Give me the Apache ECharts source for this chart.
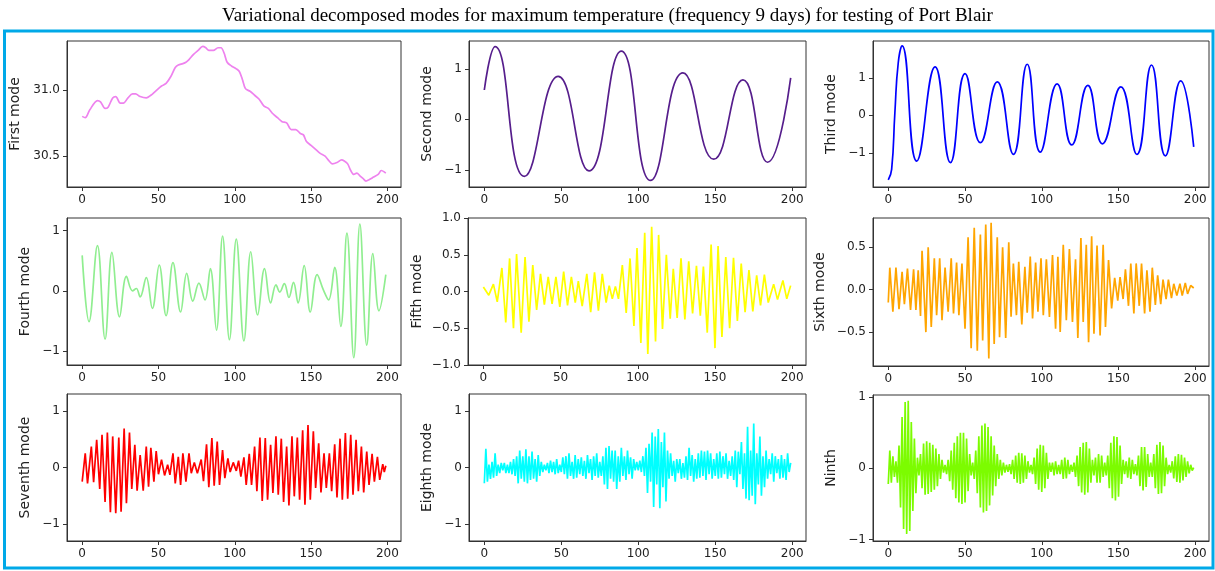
<!DOCTYPE html>
<html>
<head>
<meta charset="utf-8">
<script src="https://cdn.jsdelivr.net/npm/echarts@6/dist/echarts.min.js"></script>
<style>
html, body { margin: 0; padding: 0; background: #fff; }
#chart { width: 1215px; height: 571px; }
</style>
</head>
<body>
<div id="chart"></div>
<script>
// values: [step, value]
var firstMode = [[0,30.80],[2,30.79],[5,30.85],[10,30.92],[12,30.91],[15,30.86],[17,30.87],[20,30.94],[22,30.95],
    [25,30.90],[27,30.90],[30,30.94],[33,30.97],[35,30.97],[38,30.95],[42,30.94],[45,30.96],[48,30.99],[52,31.03],
    [55,31.05],[58,31.10],[61,31.17],[63,31.19],[66,31.20],[68,31.21],[70,31.23],[73,31.27],[76,31.30],[79,31.33],
    [81,31.32],[83,31.30],[86,31.30],[89,31.32],[91,31.32],[93,31.28],[95,31.21],[98,31.18],[101,31.16],[103,31.14],
    [105,31.08],[107,31.01],[110,30.99],[113,30.96],[116,30.93],[119,30.88],[122,30.86],[125,30.82],[128,30.79],
    [131,30.76],[134,30.75],[137,30.70],[140,30.70],[143,30.67],[145,30.66],[147,30.61],[150,30.58],[153,30.55],
    [156,30.52],[159,30.50],[162,30.46],[164,30.44],[167,30.45],[170,30.47],[172,30.46],[174,30.44],[176,30.39],
    [178,30.36],[180,30.37],[182,30.35],[184,30.33],[186,30.31],[188,30.32],[191,30.34],[194,30.36],[196,30.39],[199,30.37]];

var secondMode = [[0,0.58],[7,1.44],[26,-1.13],[48,0.85],[68,-1.02],[89,1.35],[108,-1.21],[129,0.92],
    [149,-0.79],[168,0.78],[184,-0.85],[199,0.82]];

var thirdMode = [[0,-1.72],[2.2,-1.44],[4.3,0.07],[6.5,1.40],[9,1.85],[18.5,-1.22],[30.5,1.29],[40.5,-1.26],
    [50,1.11],[60,-0.73],[71,0.89],[81.5,-1.04],[90.5,1.36],[99,-0.98],[110,0.84],[119.5,-0.79],[130,0.80],
    [139.5,-0.76],[151.5,0.76],[162,-1.04],[171.5,1.34],[180.5,-1.08],[190.5,0.92],[199,-0.84]];

var fourthMode = [[0,0.59],[4.5,-0.51],[10,0.75],[15,-0.80],[19.5,0.64],[24.5,-0.43],[29,0.24],[33,0.0],
    [35.5,0.04],[38,-0.10],[42,0.22],[46,-0.29],[50.5,0.43],[55,-0.41],[59.5,0.47],[64.5,-0.35],[68.5,0.29],
    [72.5,-0.17],[76.5,0.13],[80.5,-0.15],[84,0.37],[88,-0.65],[92,0.91],[96.5,-0.81],[101,0.86],[106,-0.83],
    [110.5,0.65],[115,-0.40],[119.5,0.37],[123.5,-0.20],[127,0.10],[129.5,-0.02],[132.5,0.12],[135.5,-0.11],
    [138.5,0.14],[141.5,-0.20],[145.5,0.42],[149.5,-0.35],[154,0.27],[158,0.02],[161.5,-0.15],[165.5,0.39],
    [169.5,-0.59],[173.5,0.96],[178,-1.11],[182,1.11],[186.5,-0.90],[190.5,0.62],[194.5,-0.33],[199,0.27]];

var fifthMode = [[0,0.06],[3.5,-0.05],[6.5,0.10],[9,-0.14],[12,0.32],[14.5,-0.42],[17,0.45],[19.5,-0.50],
    [21.5,0.51],[24.5,-0.56],[27,0.47],[29.5,-0.41],[32,0.36],[34.5,-0.25],[37,0.24],[39.5,-0.18],[42,0.20],
    [44.5,-0.17],[47,0.20],[49.5,-0.21],[52,0.27],[54.5,-0.19],[57,0.20],[59.5,-0.15],[61.5,0.14],[64,-0.20],
    [67,0.24],[69.5,-0.28],[72,0.26],[74.5,-0.26],[77,0.24],[79.5,-0.15],[81.5,0.08],[83.5,-0.10],[85.5,0.07],
    [87.5,-0.10],[90,0.36],[92.5,-0.29],[95,0.45],[97.5,-0.47],[99.5,0.59],[102,-0.70],[104.5,0.80],[106.5,-0.85],
    [109,0.88],[111.5,-0.68],[113.5,0.77],[116,-0.51],[118.5,0.50],[121,-0.37],[123,0.31],[125.5,-0.36],
    [128,0.45],[130.5,-0.38],[133,0.41],[135.5,-0.30],[138,0.35],[140.5,-0.33],[142.5,0.34],[145,-0.56],
    [147.5,0.64],[150,-0.77],[152,0.62],[154.5,-0.62],[157,0.47],[159.5,-0.50],[162,0.46],[164.5,-0.40],
    [167,0.38],[169.5,-0.28],[172,0.29],[174.5,-0.27],[177,0.22],[179.5,-0.19],[182,0.23],[184.5,-0.15],
    [188,0.10],[190.5,-0.11],[194,0.15],[196.5,-0.10],[199,0.08]];

var sixthMode = [[0,-0.15],[1,0.26],[3,-0.26],[5,0.26],[7,-0.23],[9,0.21],[10.5,-0.17],[12.5,0.25],[14.5,-0.24],
    [16.5,0.24],[18,-0.24],[19.5,0.23],[21,-0.31],[22,0.46],[24.5,-0.50],[26,0.50],[28,-0.44],[30,0.37],
    [31.5,-0.30],[33.5,0.37],[35,-0.36],[37,0.26],[39,-0.26],[41,0.37],[42.5,-0.28],[44.5,0.32],[46,-0.30],
    [48,0.31],[50,-0.46],[52,0.62],[54,-0.69],[56,0.73],[58,-0.72],[60,0.65],[61.5,-0.60],[63.5,0.77],
    [65.5,-0.81],[67,0.79],[69,-0.64],[71,0.62],[72.5,-0.56],[74.5,0.50],[76.5,-0.57],[78.5,0.56],[80,-0.32],
    [81.5,0.31],[83.5,-0.30],[85,0.33],[87,-0.41],[89,0.27],[90.5,-0.27],[92.5,0.39],[94,-0.34],[96,0.32],
    [97.5,-0.26],[99.5,0.37],[101,-0.30],[103,0.36],[105,-0.32],[107,0.41],[109,-0.46],[110.5,0.39],[112,-0.50],
    [114,0.53],[116,-0.36],[118,0.48],[120,-0.38],[122,0.36],[123.5,-0.57],[125.5,0.61],[127,-0.38],[129,0.53],
    [130.5,-0.62],[132.5,0.63],[134,-0.52],[136,0.52],[138,-0.54],[140,0.53],[141.5,-0.44],[143.5,0.35],
    [145.5,-0.22],[147.5,0.14],[149.5,-0.13],[151,0.15],[153,-0.11],[154.5,0.24],[156.5,-0.19],[158,0.31],
    [160,-0.28],[161.5,0.31],[163.5,-0.19],[165,0.31],[167,-0.28],[168.5,0.23],[170.5,-0.26],[172,0.26],
    [174,-0.18],[175.5,0.17],[177.5,-0.17],[179,0.12],[181,-0.11],[182.5,0.12],[184.5,-0.10],[186,0.07],
    [188,-0.07],[190,0.07],[191.5,-0.07],[193.5,0.08],[195,-0.05],[197,0.05],[199,0.02]];

var seventhMode = [[0,-0.25],[2,0.25],[3.5,-0.28],[6,0.37],[7.5,-0.26],[9.5,0.49],[11.5,-0.38],[13,0.58],
    [15,-0.61],[16.5,0.62],[18.5,-0.79],[20,0.55],[22,-0.81],[24,0.53],[25.5,-0.78],[27.5,0.69],[29,-0.63],
    [31,0.62],[32.5,-0.38],[34.5,0.40],[36,-0.41],[38,0.22],[40,-0.41],[42,0.37],[43.5,-0.34],[45,0.35],
    [47,-0.25],[48.5,0.29],[50,-0.12],[52,0.14],[54,-0.14],[56,0.05],[57.5,-0.13],[59.5,0.25],[61,-0.28],
    [63,0.19],[64.5,-0.31],[66,0.25],[68,-0.25],[70,0.25],[71.5,-0.10],[73.5,0.09],[75.5,-0.10],[78,0.14],
    [79.5,-0.24],[81.5,0.41],[83,-0.35],[85,0.52],[86.5,-0.32],[88.5,0.46],[90,-0.31],[92,0.31],[93.5,-0.19],
    [95.5,0.16],[97,-0.08],[99,0.09],[101,-0.06],[102.5,0.12],[104,-0.16],[106,0.18],[107.5,-0.31],[109.5,0.24],
    [111,-0.31],[113,0.37],[114.5,-0.42],[116.5,0.53],[118,-0.59],[120,0.52],[121.5,-0.57],[123.5,0.40],
    [125,-0.45],[127,0.55],[128.5,-0.48],[130.5,0.51],[132,-0.61],[134,0.37],[135.5,-0.67],[137.5,0.55],
    [139,-0.51],[141,0.53],[142.5,-0.57],[144.5,0.66],[146,-0.66],[148,0.75],[149.5,-0.57],[151.5,0.64],
    [153,-0.36],[155,0.43],[156.5,-0.44],[158.5,0.25],[160,-0.36],[162,0.25],[163.5,-0.42],[165.5,0.41],
    [167,-0.53],[169,0.51],[170.5,-0.57],[172.5,0.61],[174,-0.55],[176,0.58],[177.5,-0.48],[179.5,0.49],
    [181,-0.42],[183,0.37],[184.5,-0.44],[186.5,0.28],[188,-0.31],[190,0.24],[191.5,-0.25],[193.5,0.19],
    [195,-0.22],[197,0.06],[198,-0.08],[199,0.03]];

// one value per step 0..199
var eighthMode = [
    -0.28,0.33,-0.25,0.05,-0.2,0.1,-0.18,0.25,-0.15,0.05,
    -0.1,0.08,-0.05,0.08,-0.1,0.05,-0.1,0.1,-0.12,0.15,
    -0.15,0.2,-0.28,0.3,-0.2,0.2,-0.25,0.32,-0.28,0.2,
    -0.22,0.28,-0.2,0.15,-0.25,0.22,-0.15,0.1,-0.08,0.05,
    -0.05,0.08,-0.1,0.12,-0.08,0.1,-0.12,0.15,-0.1,0.05,
    -0.08,0.18,-0.12,0.2,-0.2,0.25,-0.15,0.1,-0.2,0.22,
    -0.18,0.15,-0.12,0.18,-0.15,0.12,-0.2,0.22,-0.1,0.15,
    -0.22,0.2,-0.15,0.25,-0.18,0.1,-0.15,0.2,-0.3,0.35,
    -0.38,0.38,-0.2,0.3,-0.25,0.3,-0.38,0.2,-0.25,0.35,
    -0.15,0.2,-0.22,0.3,-0.12,0.18,-0.2,0.15,-0.05,0.1,
    -0.05,0.12,-0.08,0.2,-0.15,0.35,-0.45,0.42,-0.25,0.62,
    -0.7,0.55,-0.3,0.68,-0.72,0.45,-0.35,0.62,-0.6,0.3,
    -0.2,0.25,-0.15,0.12,-0.25,0.15,-0.1,0.15,-0.2,0.08,
    -0.18,0.2,-0.22,0.35,-0.15,0.22,-0.25,0.15,-0.2,0.25,
    -0.18,0.3,-0.15,0.28,-0.22,0.3,-0.12,0.25,-0.2,0.15,
    -0.15,0.25,-0.2,0.28,-0.18,0.2,-0.12,0.25,-0.2,0.12,
    -0.15,0.2,-0.22,0.3,-0.35,0.28,-0.12,0.45,-0.38,0.25,
    -0.55,0.72,-0.58,0.3,-0.5,0.78,-0.65,0.25,-0.3,0.55,
    -0.5,0.2,-0.35,0.3,-0.2,0.15,-0.12,0.25,-0.25,0.2,
    -0.1,0.15,-0.2,0.22,-0.18,0.15,-0.22,0.25,-0.08,0.08];

var ninthMode = [
    -0.22,0.25,-0.2,0.17,-0.12,0.1,-0.2,0.32,-0.55,0.72,
    -0.85,0.93,-0.92,0.95,-0.88,0.65,-0.6,0.42,-0.35,0.15,
    -0.1,0.2,-0.28,0.35,-0.37,0.38,-0.36,0.36,-0.33,0.33,
    -0.3,0.28,-0.25,0.2,-0.15,0.12,-0.06,0.05,-0.08,0.12,
    -0.18,0.25,-0.3,0.36,-0.42,0.45,-0.48,0.5,-0.5,0.5,
    -0.48,0.42,-0.32,0.2,-0.1,0.08,-0.15,0.25,-0.35,0.45,
    -0.55,0.6,-0.62,0.63,-0.6,0.58,-0.52,0.45,-0.38,0.32,
    -0.25,0.2,-0.15,0.12,-0.1,0.08,-0.06,0.05,-0.05,0.06,
    -0.08,0.12,-0.15,0.18,-0.2,0.22,-0.22,0.21,-0.2,0.18,
    -0.15,0.1,-0.06,0.05,-0.08,0.15,-0.22,0.28,-0.3,0.33,
    -0.33,0.32,-0.28,0.22,-0.15,0.08,-0.05,0.08,-0.1,0.1,
    -0.08,0.05,-0.08,0.12,-0.15,0.15,-0.14,0.12,-0.08,0.05,
    -0.05,0.08,-0.12,0.18,-0.25,0.3,-0.34,0.36,-0.37,0.37,
    -0.34,0.28,-0.2,0.12,-0.1,0.15,-0.2,0.2,-0.2,0.18,
    -0.12,0.08,-0.1,0.18,-0.28,0.36,-0.42,0.45,-0.45,0.44,
    -0.4,0.32,-0.22,0.12,-0.08,0.1,-0.13,0.15,-0.15,0.12,
    -0.08,0.06,-0.1,0.18,-0.25,0.3,-0.31,0.3,-0.26,0.2,
    -0.12,0.08,-0.12,0.2,-0.28,0.33,-0.36,0.37,-0.35,0.32,
    -0.25,0.15,-0.08,0.05,-0.06,0.1,-0.14,0.17,-0.19,0.2,
    -0.2,0.19,-0.17,0.15,-0.12,0.1,-0.07,0.05,-0.03,0.01];

var modeNames = ["First mode", "Second mode", "Third mode", "Fourth mode", "Fifth mode",
    "Sixth mode", "Seventh mode", "Eighth mode", "Ninth"];
var modeColors = ["#ee82ee", "#561e8c", "#0000ff", "#90ee90", "#ffff00",
    "#ffa500", "#ff0000", "#00ffff", "#7cfc00"];
var xTicks = [0, 50, 100, 150, 200];
var yTicks = [[30.5, 31.0], [-1, 0, 1], [-1, 0, 1], [-1, 0, 1], [-1.0, -0.5, 0.0, 0.5, 1.0],
    [-0.5, 0.0, 0.5], [-1, 0, 1], [-1, 0, 1], [-1, 0, 1]];

function withIndex(arr) {
    var out = [];
    for (var i = 0; i < arr.length; i++) out.push([i, arr[i]]);
    return out;
}
var modeData = [firstMode, secondMode, thirdMode, fourthMode, fifthMode, sixthMode,
    seventhMode, withIndex(eighthMode), withIndex(ninthMode)];

// layout: [left, top, width, height, yMin, yMax, nameGap, decimals, smooth]
var panels = [
    [67, 41, 334, 146, 30.265, 31.371, 45, 1, 0.3],
    [469, 41, 337, 146, -1.34, 1.55, 35, 0, 0.5],
    [873, 41, 336, 146, -1.91, 1.98, 35, 0, 0.5],
    [67, 218, 334, 147, -1.23, 1.21, 35, 0, 0.4],
    [468, 218, 338, 147, -1, 1, 44, 1, false],
    [873, 218, 336, 148, -0.90, 0.846, 46, 1, false],
    [67, 394, 334, 147, -1.3, 1.3, 35, 0, false],
    [469, 394, 337, 147, -1.3, 1.3, 35, 0, false],
    [873, 395, 336, 146, -1.02, 1.03, 35, 0, false]
];

function fmt(dec) {
    return function (v) {
        var s = dec ? v.toFixed(1) : String(Math.round(v));
        return s.replace('-', '\u2212');
    };
}

var grids = [], xAxes = [], yAxes = [], series = [];
for (var i = 0; i < panels.length; i++) {
    var p = panels[i];
    grids.push({
        left: p[0], top: p[1], width: p[2], height: p[3],
        show: true, borderColor: '#333', borderWidth: 1, backgroundColor: 'transparent'
    });
    xAxes.push({
        type: 'value', gridIndex: i, min: -9.95, max: 208.95,
        axisLine: { show: true, onZero: false, lineStyle: { color: '#333', width: 1 } },
        axisTick: { show: true, length: 4, customValues: xTicks, lineStyle: { color: '#333' } },
        axisLabel: { customValues: xTicks, color: '#222', fontSize: 12, fontFamily: 'DejaVu Sans', margin: 7 },
        splitLine: { show: false }
    });
    yAxes.push({
        type: 'value', gridIndex: i, min: p[4], max: p[5],
        name: modeNames[i], nameLocation: 'middle', nameRotate: 90, nameGap: p[6],
        nameTextStyle: { color: '#222', fontSize: 14, fontFamily: 'DejaVu Sans' },
        axisLine: { show: true, onZero: false, lineStyle: { color: '#333', width: 1 } },
        axisTick: { show: true, length: 4, customValues: yTicks[i], lineStyle: { color: '#333' } },
        axisLabel: { customValues: yTicks[i], color: '#222', fontSize: 12, fontFamily: 'DejaVu Sans',
            margin: 7, formatter: fmt(p[7]) },
        splitLine: { show: false }
    });
    series.push({
        type: 'line', xAxisIndex: i, yAxisIndex: i, data: modeData[i],
        symbol: 'none', smooth: p[8],
        lineStyle: { color: modeColors[i], width: 1.7 },
        itemStyle: { color: modeColors[i] }
    });
}

var chart = echarts.init(document.getElementById('chart'));
chart.setOption({
    animation: false,
    backgroundColor: '#fff',
    title: {
        text: 'Variational decomposed modes for maximum temperature (frequency 9 days) for testing of Port Blair',
        left: 'center', top: 2,
        textStyle: { fontFamily: 'Liberation Serif', fontSize: 19, fontWeight: 'normal', color: '#000' }
    },
    graphic: [{
        type: 'rect', silent: true,
        shape: { x: 4.5, y: 31, width: 1208.5, height: 537 },
        style: { fill: 'none', stroke: '#00a9e8', lineWidth: 3 }
    }],
    grid: grids,
    xAxis: xAxes,
    yAxis: yAxes,
    series: series
});
</script>
</body>
</html>
